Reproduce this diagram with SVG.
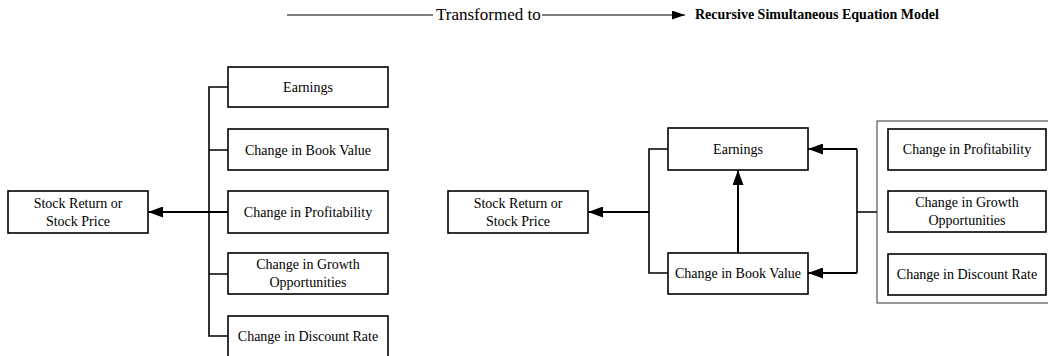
<svg xmlns="http://www.w3.org/2000/svg" width="1048" height="356" viewBox="0 0 1048 356">
<style>
.box{fill:#fff;stroke:#000;stroke-width:1.6}
.outer{fill:none;stroke:#333;stroke-width:1}
text{font-family:"Liberation Serif","DejaVu Serif",serif;fill:#000}
.t{font-size:14px;text-anchor:middle}
.c{fill:none;stroke:#000;stroke-width:1.6}
.a{fill:none;stroke:#000;stroke-width:2;marker-end:url(#ah)}
</style>
<defs>
<marker id="ah" markerUnits="userSpaceOnUse" markerWidth="15" markerHeight="11" refX="15" refY="5.5" orient="auto">
<path d="M0,0 L15,5.5 L0,11 z" fill="#000"/>
</marker>
<marker id="ahs" markerUnits="userSpaceOnUse" markerWidth="13" markerHeight="9" refX="13" refY="4.5" orient="auto">
<path d="M0,0 L13,4.5 L0,9 z" fill="#000"/>
</marker>
</defs>
<g id="header">
<line x1="287" y1="15" x2="433" y2="15" stroke="#000" stroke-width="1"/>
<text x="436" y="20" font-size="17">Transformed to</text>
<line x1="542" y1="15" x2="685" y2="15" stroke="#000" stroke-width="1" marker-end="url(#ahs)"/>
<text x="695" y="19" font-size="14" font-weight="bold">Recursive Simultaneous Equation Model</text>
</g>
<g id="connectors">
<path class="c" d="M228,87 H209 V336 H228 M209,150 H228 M209,274 H228"/>
<line class="a" x1="228" y1="212" x2="148" y2="212"/>
<path class="c" d="M668,149 H649 V273 H668"/>
<line class="a" x1="649" y1="212" x2="588" y2="212"/>
<line class="a" x1="738" y1="253" x2="738" y2="170"/>
<path class="c" d="M877,212 H857 M857,149 V273"/>
<line class="a" x1="857" y1="149" x2="808" y2="149"/>
<line class="a" x1="857" y1="273" x2="808" y2="273"/>
</g>
<g id="L_stock"><rect class="box" x="8" y="191" width="140" height="42"/><text class="t" x="78" y="208">Stock Return or</text><text class="t" x="78" y="226">Stock Price</text></g>
<g id="L_earnings"><rect class="box" x="228" y="67" width="160" height="40"/><text class="t" x="308" y="92">Earnings</text></g>
<g id="L_book"><rect class="box" x="228" y="129" width="160" height="41"/><text class="t" x="308" y="155">Change in Book Value</text></g>
<g id="L_profit"><rect class="box" x="228" y="191" width="160" height="42"/><text class="t" x="308" y="217">Change in Profitability</text></g>
<g id="L_growth"><rect class="box" x="228" y="253" width="160" height="41"/><text class="t" x="308" y="269">Change in Growth</text><text class="t" x="308" y="287">Opportunities</text></g>
<g id="L_discount"><rect class="box" x="228" y="316" width="160" height="42"/><text class="t" x="308" y="341">Change in Discount Rate</text></g>
<g id="R_stock"><rect class="box" x="448" y="191" width="140" height="42"/><text class="t" x="518" y="208">Stock Return or</text><text class="t" x="518" y="226">Stock Price</text></g>
<g id="R_earnings"><rect class="box" x="668" y="128" width="140" height="42"/><text class="t" x="738" y="154">Earnings</text></g>
<g id="R_book"><rect class="box" x="668" y="253" width="140" height="41"/><text class="t" x="738" y="278">Change in Book Value</text></g>
<g id="R_group"><rect class="outer" x="877" y="121" width="180" height="182"/></g>
<g id="R_profit"><rect class="box" x="888" y="129" width="158" height="41"/><text class="t" x="967" y="154">Change in Profitability</text></g>
<g id="R_growth"><rect class="box" x="888" y="191" width="158" height="41"/><text class="t" x="967" y="207">Change in Growth</text><text class="t" x="967" y="225">Opportunities</text></g>
<g id="R_discount"><rect class="box" x="888" y="254" width="158" height="41"/><text class="t" x="967" y="279">Change in Discount Rate</text></g>
</svg>
